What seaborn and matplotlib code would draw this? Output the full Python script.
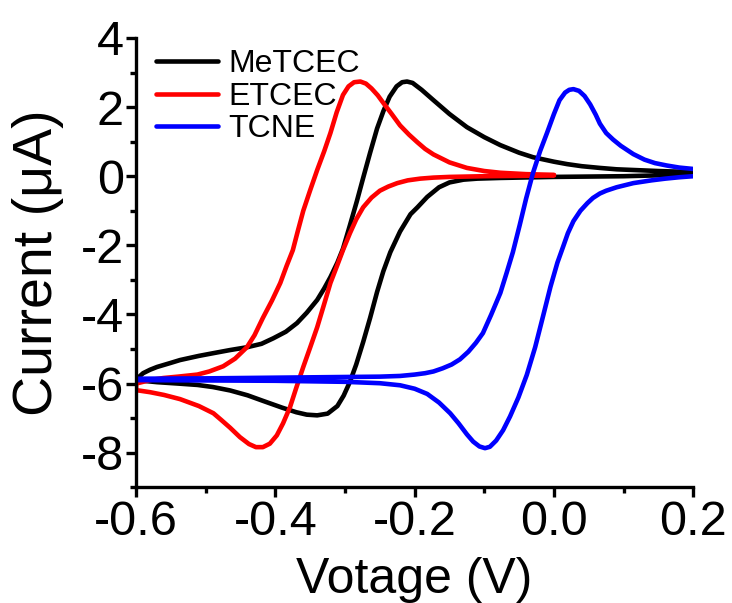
import numpy as np
import pandas as pd
import matplotlib
matplotlib.use("Agg")
import matplotlib.pyplot as plt
from matplotlib.ticker import MultipleLocator
import seaborn as sns

# ---------------- data ----------------
series_names = ["MeTCEC", "ETCEC", "TCNE"]
series_colors = ["#000000", "#ff0000", "#0000ff"]

# MeTCEC: cathodic scan (0.2 -> -0.6) then anodic scan (-0.6 -> 0.2)
me_v = [0.2, 0.1, 0.0, -0.077, -0.11, -0.13, -0.15, -0.165, -0.182, -0.196,
        -0.206, -0.221, -0.235, -0.245, -0.254, -0.264, -0.274, -0.284, -0.293,
        -0.302, -0.311, -0.325, -0.340, -0.355, -0.37, -0.39, -0.418, -0.44,
        -0.465, -0.49, -0.512, -0.54, -0.57, -0.6,
        -0.6, -0.59, -0.58, -0.57, -0.55, -0.537, -0.51, -0.489, -0.465, -0.441,
        -0.42, -0.403, -0.385, -0.369, -0.355, -0.340, -0.33, -0.321, -0.311,
        -0.303, -0.293, -0.283, -0.274, -0.264, -0.254, -0.245, -0.236, -0.226,
        -0.218, -0.211, -0.203, -0.19, -0.173, -0.15, -0.125, -0.1, -0.077,
        -0.05, -0.03, 0.0, 0.019, 0.04, 0.066, 0.09, 0.114, 0.15, 0.2]
me_i = [0.05, 0.0, -0.02, -0.05, -0.07, -0.10, -0.18, -0.32, -0.60, -0.90,
        -1.10, -1.60, -2.20, -2.75, -3.35, -4.10, -4.80, -5.45, -5.95,
        -6.35, -6.65, -6.87, -6.92, -6.90, -6.83, -6.70, -6.50, -6.34,
        -6.20, -6.10, -6.04, -6.00, -5.96, -5.90,
        -5.88, -5.70, -5.60, -5.52, -5.40, -5.32, -5.20, -5.12, -5.03, -4.95,
        -4.85, -4.69, -4.50, -4.25, -3.95, -3.58, -3.25, -2.92, -2.50,
        -2.10, -1.42, -0.72, -0.05, 0.68, 1.38, 1.88, 2.30, 2.60,
        2.72, 2.74, 2.70, 2.50, 2.20, 1.80, 1.42, 1.13, 0.90,
        0.68, 0.55, 0.42, 0.35, 0.29, 0.24, 0.20, 0.18, 0.15, 0.12]

# ETCEC: cathodic scan (0.0 -> -0.6) then anodic scan (-0.6 -> 0.0)
et_v = [0.0, -0.05, -0.1, -0.15, -0.173, -0.192, -0.21, -0.225, -0.238, -0.25,
        -0.262, -0.274, -0.284, -0.293, -0.303, -0.312, -0.321, -0.330, -0.340,
        -0.350, -0.360, -0.370, -0.379, -0.389, -0.398, -0.408, -0.418, -0.428,
        -0.438, -0.451, -0.465, -0.478, -0.489, -0.51, -0.537, -0.56, -0.58, -0.6,
        -0.6, -0.58, -0.561, -0.54, -0.512, -0.495, -0.475, -0.458, -0.441,
        -0.43, -0.418, -0.405, -0.393, -0.384, -0.375, -0.368, -0.360, -0.350,
        -0.340, -0.330, -0.321, -0.312, -0.303, -0.295, -0.287, -0.278, -0.27,
        -0.262, -0.253, -0.245, -0.233, -0.221, -0.208, -0.196, -0.185, -0.173,
        -0.15, -0.125, -0.1, -0.077, -0.04, 0.0]
et_i = [0.02, 0.01, 0.0, -0.02, -0.04, -0.07, -0.12, -0.20, -0.30, -0.42,
        -0.62, -0.90, -1.25, -1.65, -2.14, -2.62, -3.09, -3.70, -4.37,
        -4.95, -5.52, -6.12, -6.68, -7.15, -7.50, -7.74, -7.84, -7.84,
        -7.75, -7.55, -7.28, -7.05, -6.86, -6.65, -6.45, -6.33, -6.25, -6.19,
        -6.00, -5.90, -5.84, -5.80, -5.74, -5.65, -5.50, -5.28, -4.95,
        -4.60, -4.10, -3.60, -3.09, -2.60, -2.14, -1.60, -1.00, -0.40,
        0.18, 0.72, 1.25, 1.85, 2.35, 2.60, 2.72, 2.74, 2.68,
        2.54, 2.34, 2.12, 1.80, 1.47, 1.20, 0.98, 0.79, 0.63,
        0.40, 0.24, 0.15, 0.10, 0.06, 0.04]

# TCNE: cathodic scan (0.2 -> -0.6) then anodic scan (-0.6 -> 0.2)
tc_v = [0.2, 0.18, 0.16, 0.14, 0.114, 0.09, 0.075, 0.066, 0.056, 0.048, 0.038,
        0.028, 0.02, 0.013, 0.005, -0.005, -0.015, -0.027, -0.039, -0.051,
        -0.063, -0.073, -0.083, -0.092, -0.099, -0.107, -0.116, -0.125, -0.137,
        -0.149, -0.165, -0.182, -0.2, -0.221, -0.25, -0.3, -0.4, -0.5, -0.6,
        -0.6, -0.5, -0.4, -0.3, -0.25, -0.221, -0.2, -0.185, -0.173, -0.16,
        -0.147, -0.135, -0.123, -0.112, -0.102, -0.09, -0.077, -0.068, -0.059,
        -0.049, -0.04, -0.03, -0.02, -0.01, 0.0, 0.008, 0.016, 0.022, 0.028,
        0.036, 0.044, 0.052, 0.06, 0.066, 0.075, 0.085, 0.096, 0.114, 0.13,
        0.145, 0.162, 0.18, 0.2]
tc_i = [0.0, -0.03, -0.07, -0.12, -0.20, -0.32, -0.42, -0.50, -0.63, -0.78, -1.00,
        -1.30, -1.65, -2.05, -2.50, -3.20, -4.00, -4.95, -5.75, -6.40,
        -6.95, -7.35, -7.65, -7.83, -7.87, -7.82, -7.68, -7.47, -7.15,
        -6.86, -6.55, -6.30, -6.15, -6.05, -5.99, -5.95, -5.92, -5.91, -5.90,
        -5.86, -5.85, -5.83, -5.81, -5.80, -5.78, -5.74, -5.70, -5.65, -5.56,
        -5.45, -5.30, -5.08, -4.82, -4.54, -4.00, -3.38, -2.80, -2.20,
        -1.40, -0.65, 0.10, 0.72, 1.25, 1.80, 2.20, 2.42, 2.50, 2.52,
        2.47, 2.32, 2.08, 1.78, 1.52, 1.25, 1.06, 0.88, 0.64, 0.48,
        0.38, 0.31, 0.25, 0.21]

x_ticks = [-0.6, -0.4, -0.2, 0.0, 0.2]
x_tick_labels = ["-0.6", "-0.4", "-0.2", "0.0", "0.2"]
y_ticks = [-8, -6, -4, -2, 0, 2, 4]
y_tick_labels = ["-8", "-6", "-4", "-2", "0", "2", "4"]

# ---------------- build table ----------------
frames = []
for name, v, i in zip(series_names, [me_v, et_v, tc_v], [me_i, et_i, tc_i]):
    frames.append(pd.DataFrame({"V": v, "I": i, "series": name}))
df = pd.concat(frames, ignore_index=True)

# ---------------- plot ----------------
sns.set_style("ticks")
plt.rcParams["font.family"] = ["Liberation Sans", "DejaVu Sans"]
plt.rcParams["text.color"] = "black"
plt.rcParams["axes.labelcolor"] = "black"
plt.rcParams["xtick.color"] = "black"
plt.rcParams["ytick.color"] = "black"
plt.rcParams["lines.solid_capstyle"] = "round"
plt.rcParams["lines.solid_joinstyle"] = "round"

fig = plt.figure(figsize=(7.32, 6.03), dpi=100)
ax = fig.add_axes([0.186, 0.192, 0.761, 0.745])

sns.lineplot(data=df, x="V", y="I", hue="series", units="series",
             estimator=None, sort=False, hue_order=series_names,
             palette=series_colors, linewidth=3.3, ax=ax, legend=True)

ax.set_xlim(-0.6, 0.2)
ax.set_ylim(-9, 4)
ax.xaxis.set_minor_locator(MultipleLocator(0.1))
ax.yaxis.set_minor_locator(MultipleLocator(1))
ax.set_xticks(x_ticks)
ax.set_xticklabels(x_tick_labels)
ax.set_yticks(y_ticks)
ax.set_yticklabels(y_tick_labels)

for s in ["top", "right"]:
    ax.spines[s].set_visible(False)
for s in ["left", "bottom"]:
    ax.spines[s].set_linewidth(2.4)
    ax.spines[s].set_color("black")

ax.tick_params(axis="both", which="major", direction="out", length=7, width=2.4,
               labelsize=35, pad=2, colors="black")
ax.tick_params(axis="both", which="minor", direction="out", length=4, width=2.4,
               colors="black")

ax.set_xlabel("Votage (V)", fontsize=36, labelpad=9)
ax.set_ylabel("Current (μA)", fontsize=40, labelpad=12)

handles, labels = ax.get_legend_handles_labels()
leg = ax.legend(handles, labels, loc="upper left", bbox_to_anchor=(0.036, 0.975),
                frameon=False, fontsize=23, handlelength=1.95, handletextpad=0.3,
                labelspacing=0.08, borderpad=0, borderaxespad=0)
for h in leg.get_lines():
    h.set_linewidth(3.3)

fig.savefig("out.png", dpi=100)
